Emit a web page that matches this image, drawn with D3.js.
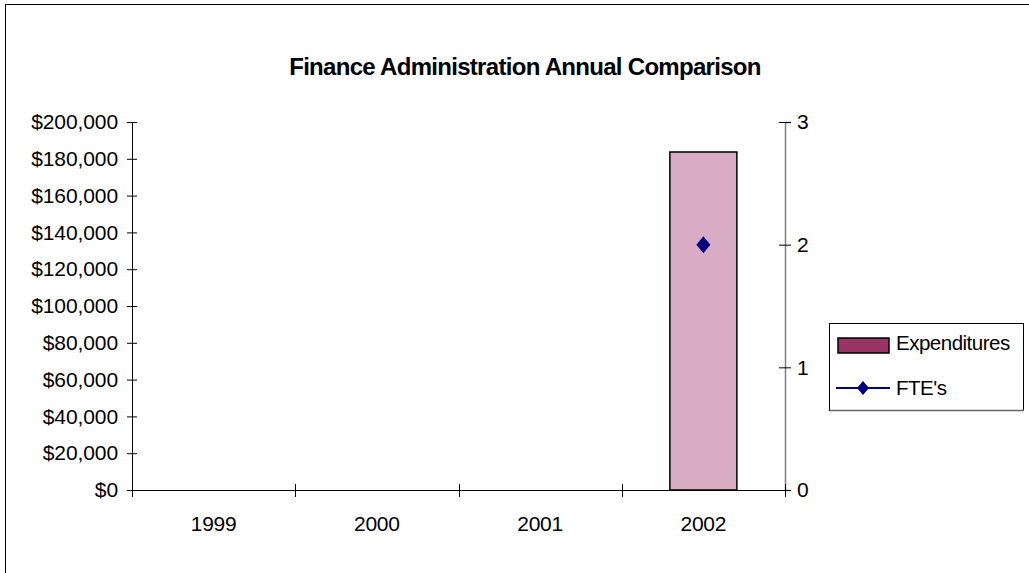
<!DOCTYPE html>
<html><head><meta charset="utf-8">
<script src="https://cdn.jsdelivr.net/npm/d3@7"></script>
<style>
html,body{margin:0;padding:0;background:#fff;}
svg{display:block;font-family:"Liberation Sans",Arial,sans-serif;}
</style></head>
<body>
<svg id="chart" width="1029" height="573"></svg>
<script>
const title = "Finance Administration Annual Comparison";
const years = ["1999", "2000", "2001", "2002"];
const expenditures = [null, null, null, 183700];
const ftes = [null, null, null, 2];
const leftTicks = [0, 20000, 40000, 60000, 80000, 100000, 120000, 140000, 160000, 180000, 200000];
const rightTicks = [0, 1, 2, 3];
const seriesNames = ["Expenditures", "FTE's"];

const svg = d3.select("#chart");
const plot = {left: 132, right: 785, top: 122, bottom: 490};

// outer border (right/bottom run off the page)
svg.append("rect").attr("x", 5.5).attr("y", 4.5).attr("width", 1100).attr("height", 700)
  .attr("fill", "none").attr("stroke", "#000").attr("stroke-width", 1);

const x = d3.scaleBand().domain(years).range([plot.left, plot.right]).paddingInner(0).paddingOuter(0);
const yL = d3.scaleLinear().domain([0, 200000]).range([plot.bottom, plot.top]);
const yR = d3.scaleLinear().domain([0, 3]).range([plot.bottom, plot.top]);

// Excel-like diamond (almost square, slightly taller)
const excelDiamond = (w, h) => ({
  draw(ctx) {
    ctx.moveTo(0, -h); ctx.lineTo(w, 0); ctx.lineTo(0, h); ctx.lineTo(-w, 0); ctx.closePath();
  }
});

// title
svg.append("text").attr("x", 525).attr("y", 75).attr("text-anchor", "middle")
  .attr("font-size", 24).attr("font-weight", "bold").attr("letter-spacing", "-0.7px")
  .text(title);

// bars
const bw = 67;
svg.append("g").selectAll("rect").data(years.map((y, i) => ({y, v: expenditures[i]})).filter(d => d.v != null))
  .enter().append("rect")
  .attr("x", d => x(d.y) + x.bandwidth() / 2 - bw / 2)
  .attr("y", d => yL(d.v))
  .attr("width", bw)
  .attr("height", d => yL(0) - yL(d.v))
  .attr("fill", "#d9abc4").attr("stroke", "#000").attr("stroke-width", 1.5);

// left axis
const gL = svg.append("g").attr("transform", `translate(${plot.left},0)`)
  .call(d3.axisLeft(yL).tickValues(leftTicks).tickSize(5).tickPadding(9)
    .tickFormat(d => "$" + d3.format(",")(d)));
gL.select(".domain").attr("stroke", "#000");
gL.selectAll(".tick line").attr("x1", -5).attr("x2", 5).attr("stroke", "#000");
gL.selectAll("text").attr("font-size", 21).attr("fill", "#000").attr("letter-spacing", "-0.1px")
  .attr("font-family", "Liberation Sans, Arial, sans-serif");

// right axis
const gR = svg.append("g").attr("transform", `translate(${plot.right},0)`)
  .call(d3.axisRight(yR).tickValues(rightTicks).tickSize(6).tickPadding(6).tickFormat(d3.format("d")));
gR.select(".domain").attr("stroke", "#808080").attr("stroke-width", 1.5);
gR.selectAll(".tick line").attr("x1", -6).attr("x2", 6).attr("stroke", "#000");
gR.selectAll("text").attr("font-size", 21).attr("fill", "#000").attr("font-family", "Liberation Sans, Arial, sans-serif");

// bottom axis
const gB = svg.append("g").attr("transform", `translate(0,${plot.bottom})`)
  .call(d3.axisBottom(x).tickSize(0).tickPadding(26));
gB.select(".domain").attr("stroke", "#000").attr("d", `M${plot.left},0.5H${plot.right + 5}`);
gB.selectAll("text").attr("font-size", 21).attr("fill", "#000").attr("letter-spacing", "-0.3px")
  .attr("font-family", "Liberation Sans, Arial, sans-serif");
// category boundary ticks
const bounds = years.map(y => x(y)).concat([plot.right]);
svg.append("g").selectAll("line").data(bounds).enter().append("line")
  .attr("x1", d => Math.round(d) + 0.5).attr("x2", d => Math.round(d) + 0.5)
  .attr("y1", plot.bottom - 6).attr("y2", plot.bottom + 7)
  .attr("stroke", "#000");

// FTE points
svg.append("g").selectAll("path").data(years.map((y, i) => ({y, v: ftes[i]})).filter(d => d.v != null))
  .enter().append("path")
  .attr("d", d3.symbol().type(excelDiamond(7, 8.5)))
  .attr("transform", d => `translate(${x(d.y) + x.bandwidth() / 2},${yR(d.v)})`)
  .attr("fill", "#000080");

// legend
const lg = svg.append("g");
lg.append("rect").attr("x", 829.5).attr("y", 323.5).attr("width", 194).attr("height", 87)
  .attr("fill", "#fff").attr("stroke", "#000").attr("stroke-width", 1);
lg.append("line").attr("x1", 830).attr("x2", 1024).attr("y1", 410.5).attr("y2", 410.5)
  .attr("stroke", "#666").attr("stroke-width", 1.5);
lg.append("rect").attr("x", 838).attr("y", 338).attr("width", 51).attr("height", 15)
  .attr("fill", "#993366").attr("stroke", "#000").attr("stroke-width", 1.5);
lg.append("text").attr("x", 896).attr("y", 343).attr("dy", "0.36em")
  .attr("font-size", 20.5).attr("letter-spacing", "-0.5px").text(seriesNames[0]);
lg.append("line").attr("x1", 836).attr("x2", 890).attr("y1", 388).attr("y2", 388)
  .attr("stroke", "#000080").attr("stroke-width", 2);
lg.append("path").attr("d", d3.symbol().type(excelDiamond(6, 7)))
  .attr("transform", "translate(863,388)").attr("fill", "#000080");
lg.append("text").attr("x", 896).attr("y", 388).attr("dy", "0.36em")
  .attr("font-size", 20.5).attr("letter-spacing", "-0.5px").text(seriesNames[1]);
</script>
</body></html>
